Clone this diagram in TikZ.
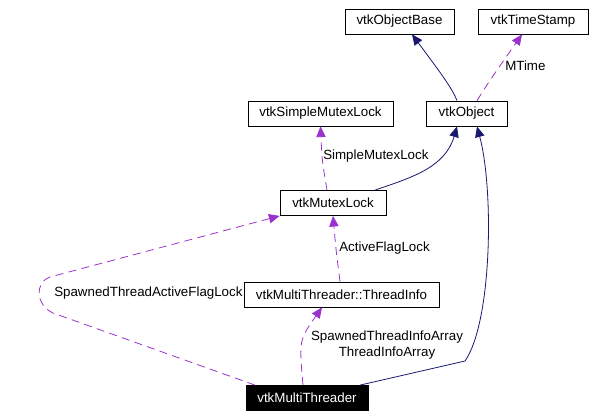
\documentclass[tikz,border=0pt]{standalone}
\usepackage{fontspec}
\setmainfont{Liberation Sans}
\usetikzlibrary{arrows.meta,calc}
\definecolor{inhcol}{HTML}{191970}
\definecolor{usecol}{HTML}{9A32CD}
\begin{document}
\begin{tikzpicture}[x=0.75pt, y=-0.75pt,
  font=\fontsize{10}{12}\selectfont,
  cls/.style = {shape=rectangle, draw, line width=0.6pt,
    minimum height=18.75pt, inner sep=0pt, minimum width=#1*0.75pt},
  lbl/.style = {inner sep=0pt, anchor=west},
  inh/.style = {draw=inhcol, line width=0.6pt,
    -{Triangle[length=8pt,width=7pt,fill=inhcol]}},
  use/.style = {draw=usecol, line width=0.6pt, dash pattern=on 6pt off 4pt,
    -{Triangle[length=8pt,width=7pt,fill=usecol]}}]
  \useasboundingbox (0,0) rectangle (595,418);
  \node[cls=109] (objbase) at (399.5,21.5) {vtkObjectBase};
  \node[cls=110] (timestamp) at (533,21.5) {vtkTimeStamp};
  \node[cls=145] (simplemutex) at (320.5,113.5) {vtkSimpleMutexLock};
  \node[cls=81] (object) at (466.5,113.5) {vtkObject};
  \node[cls=106] (mutex) at (333,203) {vtkMutexLock};
  \node[cls=195] (threadinfo) at (341.5,294.5) {vtkMultiThreader::ThreadInfo};
  \node[cls=122, fill=black, text=white] (multithreader) at (307,398) {vtkMultiThreader};

  \draw[inh] ($(object.north)+(-9.5,0)$)
    .. controls (452,88) and (440,72) .. ($(objbase.south)+(12.5,0)$);
  \draw[use] ($(object.north)+(10.5,0)$) .. controls (490,80) .. ($(timestamp.south)+(-11,0)$);
  \draw[use] ($(mutex.north)+(-6,0)$) .. controls (322,160) .. (simplemutex.south);
  \draw[inh] ($(mutex.north)+(42,0)$)
    .. controls (410,178) and (445,168) .. ($(object.south)+(-9.5,0)$);
  \draw[inh] ($(multithreader.north)+(53,0)$)
    -- (465,361) .. controls (492,322) and (494,190) .. ($(object.south)+(10.5,0)$);
  \draw[use] ($(multithreader.north)+(-52,0)$) -- (53,313)
    .. controls (36,305) and (34,283) .. (50,277) -- (mutex.south west);
  \draw[use] ($(threadinfo.north)+(-1.5,0)$) .. controls (336,250) .. (mutex.south);
  \draw[use] ($(multithreader.north)+(-4,0)$) .. controls (299,340) .. ($(threadinfo.south)+(-19.5,0)$);

  \node[lbl] (mtime) at (505,66) {MTime};
  \node[lbl] (simplelbl) at (323,156) {SimpleMutexLock};
  \node[lbl] (activelbl) at (339,248) {ActiveFlagLock};
  \node[lbl] (spawnedlbl) at (54,293) {SpawnedThreadActiveFlagLock};
  \node[inner sep=0pt, align=center] (arraylbl) at (387,345)
    {SpawnedThreadInfoArray\\ThreadInfoArray};
\end{tikzpicture}
\end{document}
